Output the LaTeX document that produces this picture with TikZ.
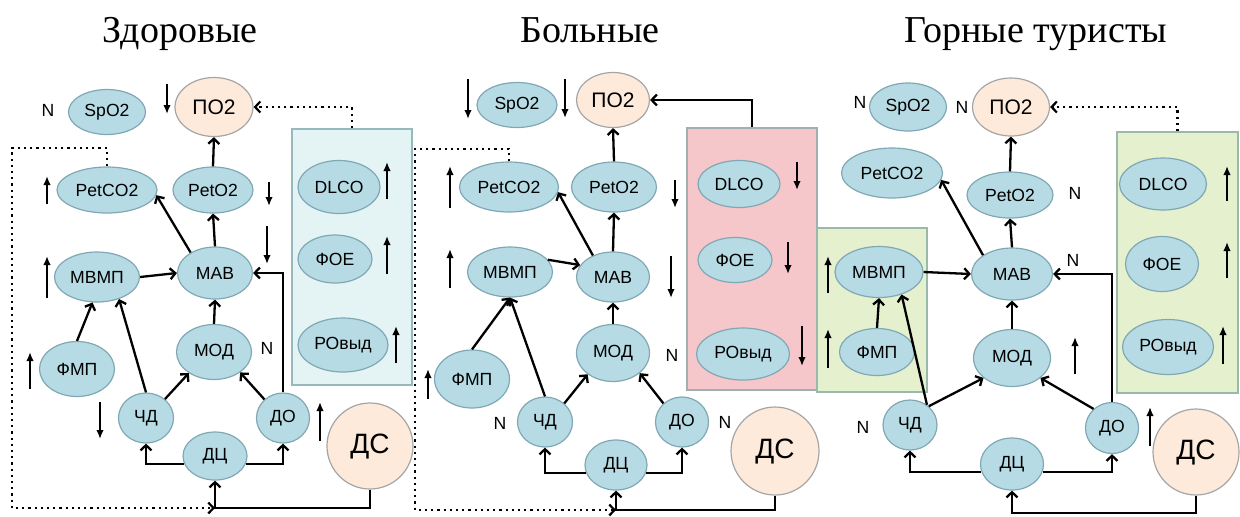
\documentclass[tikz,border=0pt]{standalone}
\usepackage{fontspec}
\setmainfont{Liberation Serif}
\setsansfont{Liberation Sans}
\usetikzlibrary{shapes.geometric,arrows.meta}
\definecolor{elf}{RGB}{183,219,228}
\definecolor{elb}{RGB}{128,168,180}
\definecolor{pkf}{RGB}{253,234,218}
\definecolor{pkb}{RGB}{165,165,165}
\definecolor{bxaf}{RGB}{228,243,244}
\definecolor{bxab}{RGB}{150,185,190}
\definecolor{bxbf}{RGB}{245,198,202}
\definecolor{bxbb}{RGB}{160,175,175}
\definecolor{bxcf}{RGB}{228,240,206}
\definecolor{bxcb}{RGB}{155,185,170}
\begin{document}
\begin{tikzpicture}[x=0.5pt,y=-0.5pt,
  el/.style 2 args={ellipse, draw=elb, fill=elf, line width=0.6pt, minimum width=#1*0.5pt, minimum height=#2*0.5pt, inner sep=0pt, font=\sffamily\fontsize{8.8}{10}\selectfont},
  pk/.style 2 args={el={#1}{#2}, draw=pkb, fill=pkf, font=\sffamily\fontsize{10.5}{12}\selectfont},
  dsn/.style={circle, draw=pkb, fill=pkf, line width=0.6pt, minimum size=43pt, inner sep=0pt, font=\sffamily\fontsize{14}{16}\selectfont},
  bx/.style 2 args={rectangle, line width=0.8pt, minimum width=#1*0.5pt, minimum height=#2*0.5pt, inner sep=0pt},
  con/.style={line width=1.15pt, -{Straight Barb[length=2.6pt,width=5.5pt]}},
  ind/.style={line width=1.1pt, -{Latex[length=4.5pt,width=3.8pt]}},
  dl/.style={line width=1.1pt, dotted},
  nn/.style={font=\sffamily\fontsize{8.8}{10}\selectfont, inner sep=0pt},
  ttl/.style={font=\fontsize{19}{22}\selectfont, anchor=base, inner sep=0pt}]
\useasboundingbox (0,0) rectangle (1240,516);

% titles
\node[ttl] (t1) at (180,42) {Здоровые};
\node[ttl] (t2) at (590,42) {Больные};
\node[ttl] (t3) at (1036,42) {Горные туристы};

% ===================== panel 1 =====================
\node[bx={120}{256}, fill=bxaf, draw=bxab] (bxa) at (352,257) {};
\node[el={77}{45}] (spo2a) at (107,112) {SpO2};
\node[pk={78}{59}] (po2a) at (214,107) {ПО2};
\node[el={100}{46}] (petco2a) at (107,190) {PetCO2};
\node[el={80}{46}] (peto2a) at (213,190) {PetO2};
\node[el={82}{53}] (dlcoa) at (339,187) {DLCO};
\node[el={74}{48}] (foea) at (335,259) {ФОЕ};
\node[el={90}{54}] (rowa) at (343,345) {РОвыд};
\node[el={85}{50}] (mvmpa) at (97,277) {МВМП};
\node[el={75}{52}] (maba) at (215,273) {МАВ};
\node[el={75}{55}] (fmpa) at (77,369) {ФМП};
\node[el={75}{55}] (moda) at (214,352) {МОД};
\node[el={55}{50}] (chda) at (146,418) {ЧД};
\node[el={53}{50}] (doa) at (283,418) {ДО};
\node[el={64}{48}] (dca) at (215,456) {ДЦ};
\node[dsn] (dsa) at (370,446) {ДС};
\coordinate (ja) at (215,508);
\coordinate (la1) at (12,148);

\draw[con] (peto2a.north) -- (po2a.south);
\draw[con] (maba.north) -- (peto2a.south);
\draw[con] (maba.140) -- (petco2a.-6);
\draw[con] (mvmpa.east) -- (maba.west);
\draw[con] (fmpa.north) -- (mvmpa.-100);
\draw[con] (chda.north) -- (mvmpa.-45);
\draw[con] (chda.45) -- (moda.-140);
\draw[con] (doa.135) -- (moda.-38);
\draw[con] (moda.north) -- (maba.south);
\draw[con] (doa.north) |- (maba.east);
\draw[con] (dca.195) -| (chda.south);
\draw[con] (dca.-15) -| (doa.south);
\draw[con] (dsa.south) |- (ja) -- (dca.south);
\draw[dl,-{Straight Barb[length=2.6pt,width=5.5pt]}] (petco2a.north) |- (la1) |- (ja);
\draw[dl,-{Straight Barb[length=2.6pt,width=5.5pt]}] (bxa.north) |- (po2a.east);

\node[nn] (n1a) at (48,110) {N};
\node[nn] (n2a) at (267,348) {N};
\draw[ind] (167,84) -- (167,114);
\draw[ind] (47,204) -- (47,176);
\draw[ind] (269,182) -- (269,206);
\draw[ind] (267,226) -- (267,264);
\draw[ind] (387,199) -- (387,162);
\draw[ind] (387,274) -- (387,236);
\draw[ind] (396,363) -- (396,326);
\draw[ind] (47,298) -- (47,256);
\draw[ind] (30,389) -- (30,352);
\draw[ind] (100,402) -- (100,439);
\draw[ind] (320,441) -- (320,402);

% ===================== panel 2 =====================
\node[bx={130}{262}, fill=bxbf, draw=bxbb] (bxb) at (752,259) {};
\node[el={80}{45}] (spo2b) at (517,105) {SpO2};
\node[pk={73}{55}] (po2b) at (613,100) {ПО2};
\node[el={99}{50}] (petco2b) at (509,187) {PetCO2};
\node[el={85}{50}] (peto2b) at (614,187) {PetO2};
\node[el={82}{47}] (dlcob) at (739,184) {DLCO};
\node[el={74}{45}] (foeb) at (735,260) {ФОЕ};
\node[el={93}{52}] (rowb) at (743,354) {РОвыд};
\node[el={85}{50}] (mvmpb) at (510,272) {МВМП};
\node[el={73}{50}] (mabb) at (613,277) {МАВ};
\node[el={75}{58}] (fmpb) at (472,379) {ФМП};
\node[el={73}{57}] (modb) at (613,353) {МОД};
\node[el={55}{50}] (chdb) at (545,422) {ЧД};
\node[el={53}{50}] (dob) at (682,422) {ДО};
\node[el={62}{50}] (dcb) at (616,465) {ДЦ};
\node[dsn, minimum size=44pt] (dsb) at (775,451) {ДС};
\coordinate (jb) at (616,510);
\coordinate (lb1) at (415,149);

\draw[con] (peto2b.north) -- (po2b.south);
\draw[con] (mabb.north) -- (peto2b.south);
\draw[con] (mabb.133) -- (petco2b.-6);
\draw[con] (mvmpb.18) -- (mabb.160);
\draw[con] (fmpb.north) -- (mvmpb.south);
\draw[con] (chdb.north) -- (mvmpb.south);
\draw[con] (chdb.44) -- (modb.-140);
\draw[con] (dob.135) -- (modb.-37);
\draw[con] (modb.north) -- (mabb.south);
\draw[con] (dcb.195) -| (chdb.south);
\draw[con] (dcb.-15) -| (dob.south);
\draw[con] (dsb.south) |- (jb) -- (dcb.south);
\draw[dl,-{Straight Barb[length=2.6pt,width=5.5pt]}] (petco2b.north) |- (lb1) |- (jb);
\draw[con] (bxb.north) |- (po2b.east);

\node[nn] (n1b) at (500,423) {N};
\node[nn] (n2b) at (672,355) {N};
\node[nn] (n3b) at (725,422) {N};
\draw[ind] (468,79) -- (468,119);
\draw[ind] (565,79) -- (565,118);
\draw[ind] (450,208) -- (450,166);
\draw[ind] (675,180) -- (675,208);
\draw[ind] (797,162) -- (797,190);
\draw[ind] (788,242) -- (788,274);
\draw[ind] (802,326) -- (802,366);
\draw[ind] (450,288) -- (450,249);
\draw[ind] (671,256) -- (671,298);
\draw[ind] (428,399) -- (428,369);

% ===================== panel 3 =====================
\node[bx={110}{164}, fill=bxcf, draw=bxcb] (bxc1) at (872,310) {};
\node[bx={121}{261}, fill=bxcf, draw=bxcb] (bxc2) at (1177.5,262.5) {};
\node[el={77}{48}] (spo2c) at (908,107) {SpO2};
\node[pk={77}{58}] (po2c) at (1011,107) {ПО2};
\node[el={101}{50}] (petco2c) at (892,173) {PetCO2};
\node[el={86}{46}] (peto2c) at (1010,195) {PetO2};
\node[el={87}{52}] (dlcoc) at (1163,184) {DLCO};
\node[el={73}{55}] (foec) at (1162,264) {ФОЕ};
\node[el={91}{55}] (rowc) at (1168,347) {РОвыд};
\node[el={88}{51}] (mvmpc) at (879,272) {МВМП};
\node[el={81}{52}] (mabc) at (1012,274) {МАВ};
\node[el={75}{47}] (fmpc) at (877,352) {ФМП};
\node[el={77}{57}] (modc) at (1012,358) {МОД};
\node[el={54}{50}] (chdc) at (910,425) {ЧД};
\node[el={53}{51}] (doc) at (1112,428) {ДО};
\node[el={63}{52}] (dcc) at (1012,464) {ДЦ};
\node[dsn] (dsc) at (1196,452) {ДС};
\coordinate (jc) at (1012,513);

\draw[con] (peto2c.north) -- (po2c.south);
\draw[con] (mabc.north) -- (peto2c.south);
\draw[con] (mabc.147) -- (petco2c.-8);
\draw[con] (mvmpc.east) -- (mabc.west);
\draw[con] (fmpc.north) -- (mvmpc.south);
\draw[con] (chdc.50) -- (mvmpc.-45);
\draw[con] (chdc.45) -- (modc.-145);
\draw[con] (doc.134) -- (modc.-35);
\draw[con] (modc.north) -- (mabc.south);
\draw[con] (doc.north) |- (mabc.east);
\draw[con] (dcc.195) -| (chdc.south);
\draw[con] (dcc.-15) -| (doc.south);
\draw[con] (dsc.south) |- (jc) -- (dcc.south);
\draw[dl,-{Straight Barb[length=2.6pt,width=5.5pt]}] (bxc2.north) |- (po2c.east);

\node[nn] (n1c) at (860,102) {N};
\node[nn] (n2c) at (962,107) {N};
\node[nn] (n3c) at (1075,193) {N};
\node[nn] (n4c) at (1073,260) {N};
\node[nn] (n5c) at (863,427) {N};
\draw[ind] (1227,201) -- (1227,166);
\draw[ind] (1227,278) -- (1227,242);
\draw[ind] (1223,364) -- (1223,326);
\draw[ind] (828,293) -- (828,256);
\draw[ind] (828,368) -- (828,329);
\draw[ind] (1075,374) -- (1075,337);
\draw[ind] (1150,446) -- (1150,407);
\end{tikzpicture}
\end{document}
